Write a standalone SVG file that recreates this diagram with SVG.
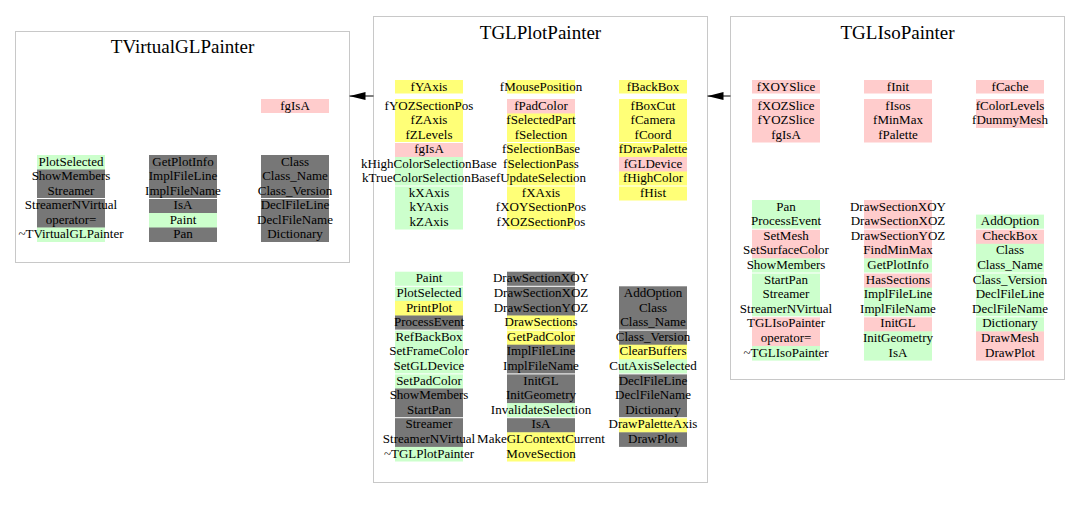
<svg xmlns="http://www.w3.org/2000/svg" width="1080" height="509" viewBox="0 0 1080 509">
<style>
.box{fill:#fff;stroke:#c8c8c8;stroke-width:1}
text{font-family:"Liberation Serif","Times New Roman",serif;font-size:13px;text-anchor:middle;fill:#000}
.ttl{font-size:19px}
.g{fill:#ccffcc}.p{fill:#ffcccc}.y{fill:#ffff77}.d{fill:#777777}
.s{fill:#ffffff}
.link{stroke:#000;stroke-width:1;fill:none}
</style>
<defs>
<marker id="ah" markerWidth="16" markerHeight="8" refX="16" refY="4" orient="auto" markerUnits="userSpaceOnUse"><path d="M0,0 L16,4 L0,8 z" fill="#000"/></marker>
</defs>
<rect x="0" y="0" width="1080" height="509" fill="#fff"/>

<g id="TVirtualGLPainter">
<rect class="box" x="15.5" y="31.5" width="334" height="231"/>
<text class="ttl" x="182.5" y="53">TVirtualGLPainter</text>
<rect class="p" x="261" y="99" width="68" height="14"/><text x="295" y="109.5">fgIsA</text>
<rect class="g" x="37" y="155" width="68" height="14.9"/>
<rect class="d" x="37" y="169.5" width="68" height="14.9"/>
<rect class="d" x="37" y="184" width="68" height="14.9"/>
<rect class="d" x="37" y="198.5" width="68" height="14.9"/>
<rect class="d" x="37" y="213" width="68" height="14.9"/>
<rect class="g" x="37" y="227.5" width="68" height="14.5"/>
<rect class="d" x="149" y="155" width="68" height="14.9"/>
<rect class="d" x="149" y="169.5" width="68" height="14.9"/>
<rect class="d" x="149" y="184" width="68" height="14.9"/>
<rect class="d" x="149" y="198.5" width="68" height="14.9"/>
<rect class="g" x="149" y="213" width="68" height="14.9"/>
<rect class="d" x="149" y="227.5" width="68" height="14.5"/>
<rect class="d" x="261" y="155" width="68" height="87"/>
<rect class="s" x="37" y="198" width="68" height="1"/>
<rect class="s" x="149" y="198" width="68" height="1"/>
<rect class="s" x="261" y="198" width="68" height="1"/>
<text x="71" y="165.5">PlotSelected</text>
<text x="71" y="180">ShowMembers</text>
<text x="71" y="194.5">Streamer</text>
<text x="71" y="209">StreamerNVirtual</text>
<text x="71" y="223.5">operator=</text>
<text x="71" y="238">~TVirtualGLPainter</text>
<text x="183" y="165.5">GetPlotInfo</text>
<text x="183" y="180">ImplFileLine</text>
<text x="183" y="194.5">ImplFileName</text>
<text x="183" y="209">IsA</text>
<text x="183" y="223.5">Paint</text>
<text x="183" y="238">Pan</text>
<text x="295" y="165.5">Class</text>
<text x="295" y="180">Class_Name</text>
<text x="295" y="194.5">Class_Version</text>
<text x="295" y="209">DeclFileLine</text>
<text x="295" y="223.5">DeclFileName</text>
<text x="295" y="238">Dictionary</text>
</g>

<g id="TGLPlotPainter">
<rect class="box" x="373.5" y="16.5" width="334" height="466"/>
<text class="ttl" x="540.5" y="39">TGLPlotPainter</text>
<!-- data members col1 -->
<rect class="y" x="395" y="80" width="68" height="13.5"/>
<rect class="y" x="395" y="99" width="68" height="43.9"/>
<rect class="p" x="395" y="142.5" width="68" height="14.9"/>
<rect class="g" x="395" y="157" width="68" height="72.5"/>
<!-- col2 -->
<rect class="y" x="507" y="80" width="68" height="13.5"/>
<rect class="p" x="507" y="99" width="68" height="14.9"/>
<rect class="y" x="507" y="113.5" width="68" height="116"/>
<!-- col3 -->
<rect class="y" x="619" y="80" width="68" height="13.5"/>
<rect class="y" x="619" y="99" width="68" height="58.4"/>
<rect class="p" x="619" y="157" width="68" height="14.9"/>
<rect class="y" x="619" y="171.5" width="68" height="29"/>
<rect class="s" x="395" y="142" width="68" height="1"/>
<rect class="s" x="507" y="142" width="68" height="1"/>
<rect class="s" x="619" y="142" width="68" height="1"/>
<rect class="s" x="395" y="185.5" width="68" height="1"/>
<rect class="s" x="507" y="185.5" width="68" height="1"/>
<rect class="s" x="619" y="185.5" width="68" height="1"/>
<text x="429" y="90.5">fYAxis</text>
<text x="429" y="109.5">fYOZSectionPos</text>
<text x="429" y="124">fZAxis</text>
<text x="429" y="138.5">fZLevels</text>
<text x="429" y="153">fgIsA</text>
<text x="429" y="167.5">kHighColorSelectionBase</text>
<text x="429" y="182">kTrueColorSelectionBase</text>
<text x="429" y="196.5">kXAxis</text>
<text x="429" y="211">kYAxis</text>
<text x="429" y="225.5">kZAxis</text>
<text x="541" y="90.5">fMousePosition</text>
<text x="541" y="109.5">fPadColor</text>
<text x="541" y="124">fSelectedPart</text>
<text x="541" y="138.5">fSelection</text>
<text x="541" y="153">fSelectionBase</text>
<text x="541" y="167.5">fSelectionPass</text>
<text x="541" y="182">fUpdateSelection</text>
<text x="541" y="196.5">fXAxis</text>
<text x="541" y="211">fXOYSectionPos</text>
<text x="541" y="225.5">fXOZSectionPos</text>
<text x="653" y="90.5">fBackBox</text>
<text x="653" y="109.5">fBoxCut</text>
<text x="653" y="124">fCamera</text>
<text x="653" y="138.5">fCoord</text>
<text x="653" y="153">fDrawPalette</text>
<text x="653" y="167.5">fGLDevice</text>
<text x="653" y="182">fHighColor</text>
<text x="653" y="196.5">fHist</text>
<!-- methods col1 -->
<rect class="g" x="395" y="271.7" width="68" height="29.6"/>
<rect class="y" x="395" y="300.9" width="68" height="15"/>
<rect class="d" x="395" y="315.5" width="68" height="15"/>
<rect class="g" x="395" y="330.1" width="68" height="58.8"/>
<rect class="d" x="395" y="388.5" width="68" height="58.8"/>
<rect class="g" x="395" y="446.9" width="68" height="14.6"/>
<!-- col2 -->
<rect class="d" x="507" y="271.7" width="68" height="44.2"/>
<rect class="y" x="507" y="315.5" width="68" height="29.6"/>
<rect class="d" x="507" y="344.7" width="68" height="58.8"/>
<rect class="g" x="507" y="403.1" width="68" height="15"/>
<rect class="d" x="507" y="417.7" width="68" height="15"/>
<rect class="y" x="507" y="432.3" width="68" height="29.2"/>
<!-- col3 -->
<rect class="d" x="619" y="286.3" width="68" height="58.8"/>
<rect class="y" x="619" y="344.7" width="68" height="15"/>
<rect class="g" x="619" y="359.3" width="68" height="15"/>
<rect class="d" x="619" y="373.9" width="68" height="44.2"/>
<rect class="y" x="619" y="417.7" width="68" height="15"/>
<rect class="d" x="619" y="432.3" width="68" height="14.6"/>
<rect class="s" x="395" y="285.8" width="68" height="1"/>
<rect class="s" x="507" y="285.8" width="68" height="1"/>
<rect class="s" x="395" y="329.6" width="68" height="1"/>
<rect class="s" x="507" y="329.6" width="68" height="1"/>
<rect class="s" x="619" y="329.6" width="68" height="1"/>
<rect class="s" x="395" y="373.4" width="68" height="1"/>
<rect class="s" x="507" y="373.4" width="68" height="1"/>
<rect class="s" x="619" y="373.4" width="68" height="1"/>
<rect class="s" x="395" y="417.2" width="68" height="1"/>
<rect class="s" x="507" y="417.2" width="68" height="1"/>
<rect class="s" x="619" y="417.2" width="68" height="1"/>
<text x="429" y="282.3">Paint</text>
<text x="429" y="296.9">PlotSelected</text>
<text x="429" y="311.5">PrintPlot</text>
<text x="429" y="326.1">ProcessEvent</text>
<text x="429" y="340.7">RefBackBox</text>
<text x="429" y="355.3">SetFrameColor</text>
<text x="429" y="369.9">SetGLDevice</text>
<text x="429" y="384.5">SetPadColor</text>
<text x="429" y="399.1">ShowMembers</text>
<text x="429" y="413.7">StartPan</text>
<text x="429" y="428.3">Streamer</text>
<text x="429" y="442.9">StreamerNVirtual</text>
<text x="429" y="457.5">~TGLPlotPainter</text>
<text x="541" y="282.3">DrawSectionXOY</text>
<text x="541" y="296.9">DrawSectionXOZ</text>
<text x="541" y="311.5">DrawSectionYOZ</text>
<text x="541" y="326.1">DrawSections</text>
<text x="541" y="340.7">GetPadColor</text>
<text x="541" y="355.3">ImplFileLine</text>
<text x="541" y="369.9">ImplFileName</text>
<text x="541" y="384.5">InitGL</text>
<text x="541" y="399.1">InitGeometry</text>
<text x="541" y="413.7">InvalidateSelection</text>
<text x="541" y="428.3">IsA</text>
<text x="541" y="442.9">MakeGLContextCurrent</text>
<text x="541" y="457.5">MoveSection</text>
<text x="653" y="296.9">AddOption</text>
<text x="653" y="311.5">Class</text>
<text x="653" y="326.1">Class_Name</text>
<text x="653" y="340.7">Class_Version</text>
<text x="653" y="355.3">ClearBuffers</text>
<text x="653" y="369.9">CutAxisSelected</text>
<text x="653" y="384.5">DeclFileLine</text>
<text x="653" y="399.1">DeclFileName</text>
<text x="653" y="413.7">Dictionary</text>
<text x="653" y="428.3">DrawPaletteAxis</text>
<text x="653" y="442.9">DrawPlot</text>
</g>

<g id="TGLIsoPainter">
<rect class="box" x="730.5" y="16.5" width="334" height="363"/>
<text class="ttl" x="897.5" y="39">TGLIsoPainter</text>
<rect class="p" x="752" y="80" width="68" height="13.5"/>
<rect class="p" x="752" y="99" width="68" height="43.5"/>
<rect class="p" x="864" y="80" width="68" height="13.5"/>
<rect class="p" x="864" y="99" width="68" height="43.5"/>
<rect class="p" x="976" y="80" width="68" height="13.5"/>
<rect class="p" x="976" y="99" width="68" height="29"/>
<text x="786" y="90.5">fXOYSlice</text>
<text x="786" y="109.5">fXOZSlice</text>
<text x="786" y="124">fYOZSlice</text>
<text x="786" y="138.5">fgIsA</text>
<text x="898" y="90.5">fInit</text>
<text x="898" y="109.5">fIsos</text>
<text x="898" y="124">fMinMax</text>
<text x="898" y="138.5">fPalette</text>
<text x="1010" y="90.5">fCache</text>
<text x="1010" y="109.5">fColorLevels</text>
<text x="1010" y="124">fDummyMesh</text>
<!-- methods col1 -->
<rect class="g" x="752" y="200" width="68" height="29.6"/>
<rect class="p" x="752" y="229.2" width="68" height="29.6"/>
<rect class="g" x="752" y="258.4" width="68" height="58.8"/>
<rect class="p" x="752" y="316.8" width="68" height="29.6"/>
<rect class="g" x="752" y="346" width="68" height="14.6"/>
<!-- col2 -->
<rect class="p" x="864" y="200" width="68" height="58.8"/>
<rect class="g" x="864" y="258.4" width="68" height="15"/>
<rect class="p" x="864" y="273" width="68" height="15"/>
<rect class="g" x="864" y="287.6" width="68" height="29.6"/>
<rect class="p" x="864" y="316.8" width="68" height="15"/>
<rect class="g" x="864" y="331.4" width="68" height="29.2"/>
<!-- col3 -->
<rect class="g" x="976" y="214.6" width="68" height="15"/>
<rect class="p" x="976" y="229.2" width="68" height="15"/>
<rect class="g" x="976" y="243.8" width="68" height="88"/>
<rect class="p" x="976" y="331.4" width="68" height="29.2"/>
<rect class="s" x="752" y="228.7" width="68" height="1"/>
<rect class="s" x="864" y="228.7" width="68" height="1"/>
<rect class="s" x="976" y="228.7" width="68" height="1"/>
<rect class="s" x="752" y="272.5" width="68" height="1"/>
<rect class="s" x="864" y="272.5" width="68" height="1"/>
<rect class="s" x="976" y="272.5" width="68" height="1"/>
<rect class="s" x="752" y="316.3" width="68" height="1"/>
<rect class="s" x="864" y="316.3" width="68" height="1"/>
<rect class="s" x="976" y="316.3" width="68" height="1"/>
<text x="786" y="210.6">Pan</text>
<text x="786" y="225.2">ProcessEvent</text>
<text x="786" y="239.8">SetMesh</text>
<text x="786" y="254.4">SetSurfaceColor</text>
<text x="786" y="269">ShowMembers</text>
<text x="786" y="283.6">StartPan</text>
<text x="786" y="298.2">Streamer</text>
<text x="786" y="312.8">StreamerNVirtual</text>
<text x="786" y="327.4">TGLIsoPainter</text>
<text x="786" y="342">operator=</text>
<text x="786" y="356.6">~TGLIsoPainter</text>
<text x="898" y="210.6">DrawSectionXOY</text>
<text x="898" y="225.2">DrawSectionXOZ</text>
<text x="898" y="239.8">DrawSectionYOZ</text>
<text x="898" y="254.4">FindMinMax</text>
<text x="898" y="269">GetPlotInfo</text>
<text x="898" y="283.6">HasSections</text>
<text x="898" y="298.2">ImplFileLine</text>
<text x="898" y="312.8">ImplFileName</text>
<text x="898" y="327.4">InitGL</text>
<text x="898" y="342">InitGeometry</text>
<text x="898" y="356.6">IsA</text>
<text x="1010" y="225.2">AddOption</text>
<text x="1010" y="239.8">CheckBox</text>
<text x="1010" y="254.4">Class</text>
<text x="1010" y="269">Class_Name</text>
<text x="1010" y="283.6">Class_Version</text>
<text x="1010" y="298.2">DeclFileLine</text>
<text x="1010" y="312.8">DeclFileName</text>
<text x="1010" y="327.4">Dictionary</text>
<text x="1010" y="342">DrawMesh</text>
<text x="1010" y="356.6">DrawPlot</text>
</g>

<g id="connectors">
<line class="link" x1="373.5" y1="96" x2="349.5" y2="96" marker-end="url(#ah)"/>
<line class="link" x1="730.5" y1="96" x2="707.5" y2="96" marker-end="url(#ah)"/>
</g>
</svg>
